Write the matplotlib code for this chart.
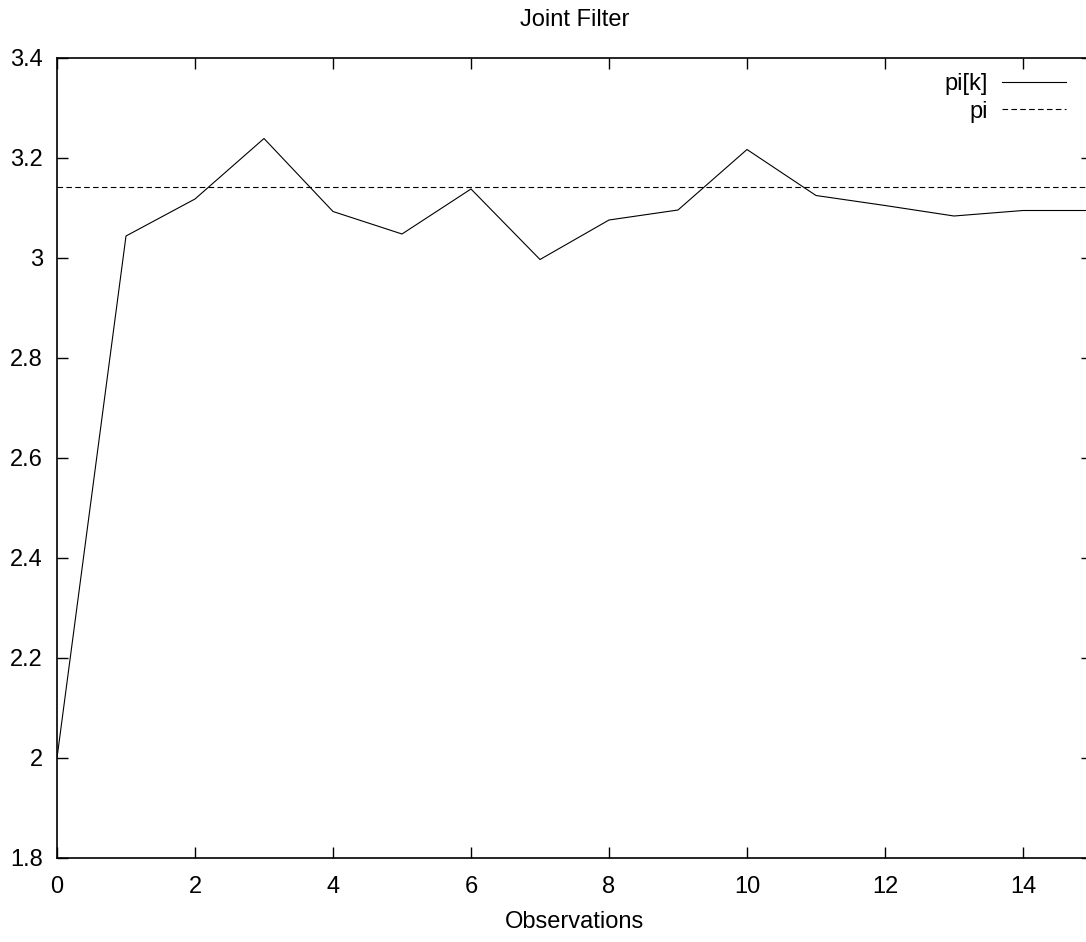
import numpy as np
import matplotlib
matplotlib.use('Agg')
import matplotlib.pyplot as plt

# observations and filter estimate
obs = [0, 1, 2, 3, 4, 5, 6, 7, 8, 9, 10, 11, 12, 13, 14, 15]
pi_k = [2.0, 3.044, 3.118, 3.239, 3.093, 3.048, 3.138, 2.997, 3.076, 3.096,
        3.217, 3.125, 3.105, 3.084, 3.095, 3.095]
pi_true = np.pi

xticks = [0, 2, 4, 6, 8, 10, 12, 14]
yticks = [1.8, 2.0, 2.2, 2.4, 2.6, 2.8, 3.0, 3.2, 3.4]
ytick_labels = ['1.8', '2', '2.2', '2.4', '2.6', '2.8', '3', '3.2', '3.4']

plt.rcParams['font.family'] = ['Liberation Sans', 'DejaVu Sans']
fs = 17

W, H = 1086, 942
fig = plt.figure(figsize=(W / 100, H / 100), dpi=100)
ax = fig.add_axes([57 / W, (H - 858) / H, (1092 - 57) / W, 800 / H])

ax.plot(obs, pi_k, color='black', lw=0.8, label='pi[k]')
ax.axhline(pi_true, color='black', lw=0.8, ls=(0, (5, 3)), label='pi')

ax.set_xlim(0, 15)
ax.set_ylim(1.8, 3.4)
ax.set_xticks(xticks)
ax.set_yticks(yticks)
ax.set_yticklabels(ytick_labels)
ax.tick_params(direction='in', length=8, width=1, top=True, right=True,
               labelsize=fs, pad=10)
ax.tick_params(axis='x', pad=13)
for s in ax.spines.values():
    s.set_linewidth(1.2)

ax.set_title('Joint Filter', fontsize=fs, pad=23)
ax.set_xlabel('Observations', fontsize=fs, labelpad=9)

leg = ax.legend(loc='upper right', bbox_to_anchor=(1066 / W, 1 - 73 / H),
                bbox_transform=fig.transFigure, frameon=False, markerfirst=False,
                fontsize=fs, handlelength=2.7, handletextpad=0.6,
                labelspacing=0.24, borderpad=0, borderaxespad=0)
for t in leg.get_texts():
    t.set_ha('right')

fig.savefig('out.png', dpi=100)
